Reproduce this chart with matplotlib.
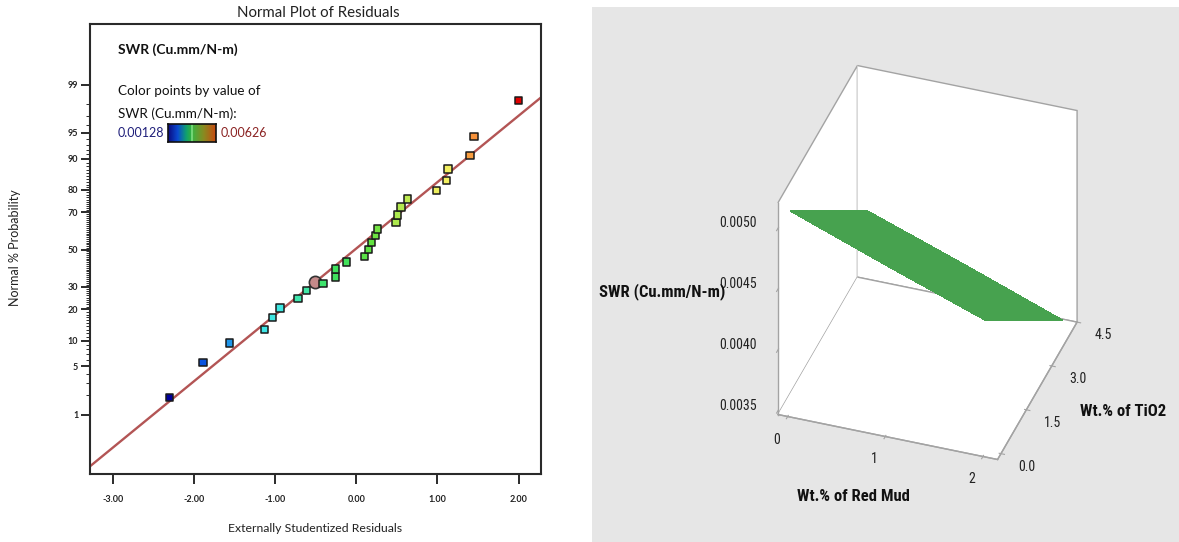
import math
from statistics import NormalDist
import numpy as np
import matplotlib
matplotlib.use("Agg")
import matplotlib.pyplot as plt
from matplotlib.colors import LinearSegmentedColormap, Normalize
from matplotlib.patches import Rectangle
from matplotlib.ticker import FixedLocator, NullFormatter
from mpl_toolkits.mplot3d import proj3d

# ---------------- data: normal plot of residuals ----------------
residuals = [-2.30, -1.89, -1.56, -1.13, -1.03, -0.94, -0.72, -0.61, -0.41,
             -0.26, -0.26, -0.12, 0.10, 0.15, 0.19, 0.24, 0.26, 0.49, 0.51,
             0.55, 0.63, 0.99, 1.11, 1.13, 1.40, 1.45, 2.00]
prob_pct = [1.88, 5.6, 9.4, 13.1, 16.9, 20.6, 24.5, 28.3, 31.6, 35.0, 39.3,
            43.1, 46.3, 50.0, 53.9, 57.8, 61.5, 65.0, 68.7, 72.6, 76.2, 79.8,
            83.5, 87.2, 90.8, 94.5, 98.2]
swr_color_value = [0.00128, 0.00198, 0.00248, 0.00292, 0.00297, 0.00297,
                   0.00337, 0.00342, 0.00377, 0.00387, 0.00387, 0.00392,
                   0.00417, 0.00422, 0.00427, 0.00432, 0.00437, 0.00467,
                   0.00467, 0.00472, 0.00477, 0.00506, 0.00511, 0.00511,
                   0.00566, 0.00571, 0.00626]
highlight_res = [-0.51]
highlight_pct = [32.5]
fit_res = [-3.28, 2.275]
fit_pct = [0.114, 98.40]
swr_min, swr_max = 0.00128, 0.00626
y_major = [1, 5, 10, 20, 30, 50, 70, 80, 90, 95, 99]
x_major = [-3, -2, -1, 0, 1, 2]
x_major_labels = ["-3.00", "-2.00", "-1.00", "0.00", "1.00", "2.00"]

# ---------------- data: response surface ----------------
red_mud = [0, 1, 2]
tio2 = [0.0, 1.5, 3.0, 4.5]
swr_surface = [[0.00511, 0.00475, 0.00439, 0.00403],
               [0.00482, 0.00446, 0.00411, 0.00375],
               [0.00454, 0.00418, 0.00382, 0.00346]]
x_ticks3 = [0, 1, 2]
x_labels3 = ["0", "1", "2"]
y_ticks3 = [0.0, 1.5, 3.0, 4.5]
y_labels3 = ["0.0", "1.5", "3.0", "4.5"]
z_ticks3 = [0.0035, 0.0040, 0.0045, 0.0050]
z_labels3 = ["0.0035", "0.0040", "0.0045", "0.0050"]

W, H = 1179, 542
fig = plt.figure(figsize=(W / 100, H / 100), dpi=100)
fig.patch.set_facecolor("white")

LEFT_FONT = "Lato"
NARROW = ["Roboto Condensed", "Noto Sans Condensed", "DejaVu Sans"]


def fx(px):
    return px / W


def fy(py):
    return 1 - py / H


# ---------------- left panel ----------------
_nd = NormalDist()
_ppf = np.vectorize(_nd.inv_cdf, otypes=[float])
_erf = np.vectorize(math.erf, otypes=[float])


def probit(p):
    p = np.clip(np.asarray(p, dtype=float) / 100.0, 1e-9, 1 - 1e-9)
    return _ppf(p)


def inv_probit(q):
    q = np.asarray(q, dtype=float)
    return 100.0 * 0.5 * (1.0 + _erf(q / math.sqrt(2.0)))


ax = fig.add_axes([fx(90), fy(474), fx(541) - fx(90), fy(24) - fy(474)])
ax.set_yscale("function", functions=(probit, inv_probit))
ax.set_xlim(-3.28, 2.275)
ax.set_ylim(0.079, 99.926)

colors_pts = [(0.00, "#00009a"), (0.14, "#0a55e0"), (0.24, "#1e96ea"),
              (0.33, "#3ee6e6"), (0.43, "#40e6a6"), (0.52, "#3ee25e"),
              (0.60, "#62e240"), (0.69, "#b4ea4e"), (0.77, "#f4f060"),
              (0.88, "#f8a040"), (1.00, "#e00000")]
pt_cmap = LinearSegmentedColormap.from_list("pts", colors_pts)

ax.plot(fit_res, fit_pct, color="#b35555", lw=1.7, zorder=2)
ax.scatter(highlight_res, highlight_pct, marker="o", s=78, facecolor="#c48a8a",
           edgecolor="#333333", linewidths=1.2, zorder=3)
ax.scatter(residuals, prob_pct, c=swr_color_value, cmap=pt_cmap,
           norm=Normalize(swr_min, swr_max), marker="s", s=28,
           edgecolor="#1a1a1a", linewidths=1.1, zorder=4)

for sp in ax.spines.values():
    sp.set_linewidth(1.5)
    sp.set_color("#2a2a2a")
ax.yaxis.set_major_locator(FixedLocator(y_major))
ax.set_yticklabels([str(v) for v in y_major])
y_minor = [v for v in range(2, 99) if v not in y_major]
ax.yaxis.set_minor_locator(FixedLocator(y_minor))
ax.yaxis.set_minor_formatter(NullFormatter())
ax.set_xticks(x_major)
ax.set_xticklabels(x_major_labels)
ax.tick_params(axis="y", which="major", length=6.5, width=1.4, color="#2a2a2a",
               labelsize=6.5, labelcolor="#222222", pad=2)
ax.tick_params(axis="y", which="minor", length=3.2, width=0.7, color="#2a2a2a")
ax.tick_params(axis="x", which="major", length=7, width=1.4, color="#2a2a2a",
               labelsize=6.5, labelcolor="#222222", pad=8)
ax.tick_params(axis="x", which="minor", length=0)
for lab in ax.get_xticklabels() + ax.get_yticklabels():
    lab.set_fontfamily(LEFT_FONT)
    lab.set_fontweight("bold")

fig.text(fx(318), fy(12.7), "Normal Plot of Residuals", ha="center", va="center",
         fontsize=10.8, family=LEFT_FONT, color="#222222")
fig.text(fx(15), fy(248), "Normal % Probability", ha="center", va="center",
         rotation=90, fontsize=9, family=LEFT_FONT, color="#222222")
fig.text(fx(315), fy(528), "Externally Studentized Residuals", ha="center",
         va="center", fontsize=8.8, family=LEFT_FONT, color="#222222")

fig.text(fx(118), fy(49.3), "SWR (Cu.mm/N-m)", ha="left", va="center",
         fontsize=10, fontweight="bold", family=LEFT_FONT, color="#111111")
fig.text(fx(118), fy(90.7), "Color points by value of", ha="left", va="center",
         fontsize=9.7, family=LEFT_FONT, color="#111111")
fig.text(fx(118), fy(113.3), "SWR (Cu.mm/N-m):", ha="left", va="center",
         fontsize=9.7, family=LEFT_FONT, color="#111111")
fig.text(fx(118), fy(132.7), f"{swr_min:.5f}", ha="left", va="center",
         fontsize=9, family=LEFT_FONT, color="#1f1f7a")
fig.text(fx(220.7), fy(132.7), f"{swr_max:.5f}", ha="left", va="center",
         fontsize=9, family=LEFT_FONT, color="#8b2323")

bar_cmap = LinearSegmentedColormap.from_list(
    "bar", [(0.0, "#0a0a80"), (0.2, "#0a4ad0"), (0.38, "#10a070"),
            (0.48, "#30b040"), (0.5, "#b0ffb0"), (0.52, "#40b040"),
            (0.75, "#8a8a20"), (1.0, "#c84a10")])
cax = fig.add_axes([fx(168.3), fy(141.7), fx(216) - fx(168.3), fy(124) - fy(141.7)])
cax.imshow(np.linspace(0, 1, 200)[None, :], cmap=bar_cmap, aspect="auto")
cax.set_xticks([])
cax.set_yticks([])
for sp in cax.spines.values():
    sp.set_linewidth(1.2)
    sp.set_color("#111111")

# ---------------- right panel (3D surface) ----------------
fig.add_artist(Rectangle((fx(592), 0), 1 - fx(592), fy(7), transform=fig.transFigure,
                         facecolor="#e6e6e6", edgecolor="none", zorder=-1))

S = 480
cx, cy = 921, 269
ax3 = fig.add_axes([fx(cx - S / 2), fy(cy + S / 2), S / W, S / H], projection="3d")
ax3.patch.set_alpha(0)
ax3.set_facecolor("none")
ax3.set_proj_type("ortho")
ax3.view_init(elev=36.5, azim=-71)
ax3.set_box_aspect((231.7, 243.6, 262.5), zoom=0.865)
ax3.set_xlim(-0.1, 2.15)
ax3.set_ylim(-0.2, 4.5)
ax3.set_zlim(0.00347, 0.00521)

X, Y = np.meshgrid(red_mud, tio2, indexing="ij")
Z = np.array(swr_surface)
ax3.plot_surface(X, Y, Z, color="#47a24f", shade=False, linewidth=0.5,
                 edgecolor="#47a24f", antialiased=False)

ax3.grid(False)
for axis in (ax3.xaxis, ax3.yaxis, ax3.zaxis):
    axis.set_pane_color((1, 1, 1, 1))
    axis.pane.set_edgecolor("#a3a3a3")
    axis.pane.set_linewidth(1.0)
    axis.line.set_color("#a3a3a3")
    axis.line.set_linewidth(1.0)
ax3.zaxis.set_ticks_position("lower")
ax3.set_xticks(x_ticks3)
ax3.set_xticklabels([""] * len(x_ticks3))
ax3.set_yticks(y_ticks3)
ax3.set_yticklabels([""] * len(y_ticks3))
ax3.set_zticks(z_ticks3)
ax3.set_zticklabels([""] * len(z_ticks3))
ax3.tick_params(axis="both", colors="#a3a3a3")
ax3.tick_params(axis="z", colors="#a3a3a3")

# tick labels placed next to the projected tick positions
fig.canvas.draw()
M = ax3.get_proj()
xl, yl, zl = ax3.get_xlim(), ax3.get_ylim(), ax3.get_zlim()


def proj_px(x, y, z):
    xs, ys, _ = proj3d.proj_transform(x, y, z, M)
    d = ax3.transData.transform((xs, ys))
    return d[0], H - d[1]


tick_kw = dict(fontsize=10, family=NARROW, color="#222222", va="center")
for v, s in zip(z_ticks3, z_labels3):
    px, py = proj_px(xl[0], yl[0], v)
    fig.text(fx(px - 21), fy(py - 5), s, ha="right", **tick_kw)
for v, s in zip(x_ticks3, x_labels3):
    px, py = proj_px(v, yl[0], zl[0])
    fig.text(fx(px - 11), fy(py + 23), s, ha="center", **tick_kw)
for v, s in zip(y_ticks3, y_labels3):
    px, py = proj_px(xl[1], v, zl[0])
    fig.text(fx(px + 26), fy(py + 13), s, ha="center", **tick_kw)

title_kw = dict(ha="center", va="center", fontsize=12, fontweight="bold",
                family=NARROW, color="#111111")
fig.text(fx(662), fy(291.7), "SWR (Cu.mm/N-m)", **title_kw)
fig.text(fx(853), fy(496.7), "Wt.% of Red Mud", **title_kw)
fig.text(fx(1123), fy(411), "Wt.% of TiO2", **title_kw)

fig.savefig("out.png", dpi=100)
